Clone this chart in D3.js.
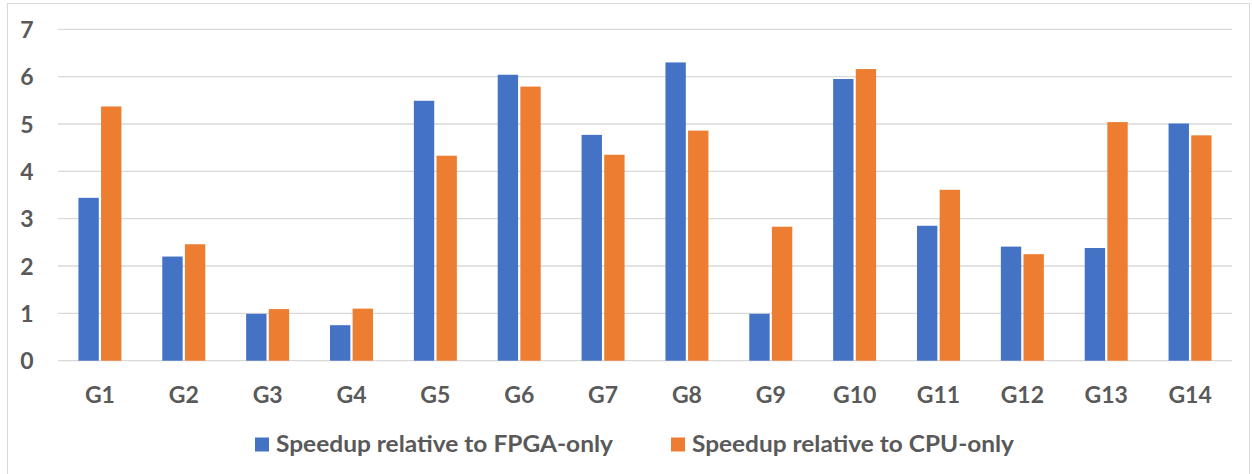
<!DOCTYPE html>
<html><head><meta charset="utf-8">
<script src="https://cdn.jsdelivr.net/npm/d3@7"></script>
<style>body{margin:0;background:#fff;} text{font-family:Lato,"Open Sans",sans-serif;font-weight:bold;fill:#595959;}</style>
</head><body><svg id="c" width="1252" height="474"></svg>
<script>
const categories = ["G1","G2","G3","G4","G5","G6","G7","G8","G9","G10","G11","G12","G13","G14"];
const fpgaValues = [3.44,2.2,0.99,0.75,5.49,6.04,4.77,6.3,0.99,5.95,2.85,2.41,2.38,5.01];
const cpuValues  = [5.37,2.46,1.09,1.1,4.33,5.79,4.35,4.86,2.83,6.16,3.61,2.25,5.04,4.76];
const seriesNames = ["Speedup relative to FPGA-only","Speedup relative to CPU-only"];
const yTicks = [0,1,2,3,4,5,6,7];
const colors = ["#4472c4","#ed7d31"];

const svg = d3.select("#c");
svg.append("rect").attr("x",7.5).attr("y",3.5).attr("width",1242).attr("height",480)
  .attr("fill","#fff").attr("stroke","#d9d9d9");

const pL=58, pR=1232, pT=29.3, pB=360.7;
const x = d3.scaleBand().domain(categories).range([pL,pR]).paddingInner(0).paddingOuter(0);
const y = d3.scaleLinear().domain([0,7]).range([pB,pT]);
const sub = d3.scaleBand().domain([0,1]).range([-21.5,21.5]).paddingInner(0.1);

svg.append("g").selectAll("line").data(yTicks).join("line")
  .attr("x1",pL).attr("x2",pR).attr("y1",d=>y(d)).attr("y2",d=>y(d))
  .attr("stroke","#d9d9d9").attr("stroke-width",1.3);

const data = categories.map((c,i)=>({c, v:[fpgaValues[i],cpuValues[i]]}));
const g = svg.append("g");
data.forEach(d=>{
  d.v.forEach((v,k)=>{
    g.append("rect").attr("x",x(d.c)+x.bandwidth()/2+sub(k)).attr("width",sub.bandwidth())
      .attr("y",y(v)).attr("height",y(0)-y(v)).attr("fill",colors[k]);
  });
});

const yAxis = d3.axisLeft(y).tickValues(yTicks).tickFormat(d3.format("d")).tickSize(0).tickPadding(0);
const ya = svg.append("g").attr("transform",`translate(33.5,0)`).call(yAxis);
ya.select(".domain").remove();
ya.selectAll("text").style("font-size","23px").attr("dy","0.35em");

const xAxis = d3.axisBottom(x).tickSize(0).tickPadding(0);
const xa = svg.append("g").attr("transform",`translate(0,${pB+26})`).call(xAxis);
xa.select(".domain").remove();
xa.selectAll("text").style("font-size","23px").attr("dy","0.71em");

const legX=[255,671];
const legW=[337,322];
seriesNames.forEach((n,k)=>{
  svg.append("rect").attr("x",legX[k]).attr("y",437.5).attr("width",14).attr("height",14).attr("fill",colors[k]);
  svg.append("text").attr("x",legX[k]+21).attr("y",452.3).style("font-size","23px")
    .attr("textLength",legW[k]).attr("lengthAdjust","spacingAndGlyphs").text(n);
});
</script></body></html>
